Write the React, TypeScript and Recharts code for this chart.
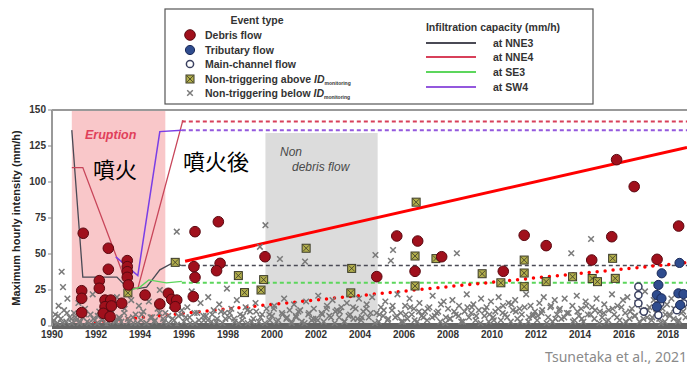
import React from 'react';
import {
  ComposedChart, Scatter, Line, XAxis, YAxis, ReferenceArea, ReferenceLine,
} from 'recharts';

type Pt = [number, number];

const yearTicks = [1990, 1992, 1994, 1996, 1998, 2000, 2002, 2004, 2006, 2008, 2010, 2012, 2014, 2016, 2018];
const intensityTicks = [0, 25, 50, 75, 100, 125, 150];

// [year, max hourly intensity mm/h]
const debrisFlow: Pt[] = [
  [1991.42, 64.4], [1992.56, 54], [1992.56, 39.4], [1993.42, 45.4], [1993.42, 41.2], [1993.42, 37.7],
  [1993.42, 33.8], [1993.47, 28.5], [1992.15, 31.5], [1992.15, 26.2], [1991.35, 24.5], [1991.35, 19.2],
  [1991.35, 9.3], [1992.41, 18], [1992.67, 18], [1992.41, 13.4], [1992.7, 13.9], [1992.33, 8.8],
  [1992.64, 6.5], [1993.17, 15.8], [1994.23, 21.5], [1994.9, 15.3], [1995.29, 22.7], [1995.44, 18.5],
  [1995.67, 18], [1995.6, 13.4],
  [1996.42, 20.4], [1996.5, 65.5], [1996.45, 41.2], [1996.5, 33.8], [1997.56, 72.4], [1999.68, 48.1],
  [1997.64, 43.5], [1997.48, 38.4], [2004.76, 34.3], [2005.67, 62.5], [2006.62, 59], [2006.5, 38],
  [2007.71, 48.1], [2010.51, 38], [2011.46, 63], [2012.46, 55.8], [2014.53, 45.8], [2015.44, 62],
  [2015.66, 115.5], [2016.46, 96.8], [2017.5, 46.3], [2018.48, 69.4],
];

const tributaryFlow: Pt[] = [
  [2017.71, 36.6], [2018.52, 43.8], [2017.56, 28.5], [2017.49, 21.5], [2017.7, 19.2],
  [2018.47, 22.7], [2018.7, 22.2], [2017.49, 13.4], [2018.55, 14.6],
];

const mainChannelFlow: Pt[] = [
  [2016.65, 27.3], [2016.65, 21.5], [2016.65, 15.8], [2017.64, 15.8], [2017.56, 7.6],
  [2018.7, 15.8], [2018.4, 11], [2016.9, 10],
];

const aboveId: Pt[] = [
  [1995.6, 44.2], [1993.45, 23], [2001.55, 54], [2003.62, 40], [1998.47, 35], [1999.62, 32.2],
  [1998.75, 23.2], [1999.5, 25], [2003.58, 23], [2006.55, 86], [2006.5, 48.6], [2006.5, 27.8],
  [2007.45, 46.8], [2009.55, 36.3], [2010.4, 30], [2011.46, 45.8], [2011.46, 36.8], [2011.46, 27.3],
  [2012.46, 30.8], [2013.66, 34.2], [2014.55, 33], [2014.79, 30.8], [2015.48, 47], [2015.6, 33.1],
];

const belowId: Pt[] = [
  [1990.05, 3], [1990.15, 8], [1990.25, 2], [1990.3, 14], [1990.4, 5], [1990.44, 37.7], [1990.5, 27],
  [1990.55, 11], [1990.65, 3], [1990.7, 19], [1990.8, 6], [1990.9, 2],
  [1991.0, 9], [1991.1, 4], [1991.2, 16], [1991.25, 2], [1991.4, 6], [1991.5, 12], [1991.6, 3],
  [1991.75, 8], [1991.85, 22], [1991.95, 4],
  [1992.05, 2], [1992.15, 10], [1992.3, 5], [1992.45, 15], [1992.55, 3], [1992.7, 9], [1992.85, 4], [1992.95, 20],
  [1993.05, 6], [1993.15, 3], [1993.3, 12], [1993.45, 5], [1993.6, 18], [1993.7, 2], [1993.8, 8], [1993.95, 14],
  [1994.05, 4], [1994.15, 10], [1994.3, 2], [1994.4, 17], [1994.55, 6], [1994.65, 3], [1994.8, 12], [1994.9, 25],
  [1995.05, 5], [1995.15, 9], [1995.3, 2], [1995.45, 14], [1995.55, 4], [1995.67, 65.5], [1995.75, 7], [1995.9, 11],
  [1996.0, 3], [1996.15, 13], [1996.25, 6], [1996.35, 24], [1996.5, 2], [1996.6, 9], [1996.75, 16], [1996.9, 4],
  [1997.0, 7], [1997.1, 20], [1997.25, 3], [1997.35, 11], [1997.5, 5], [1997.6, 15], [1997.75, 2], [1997.85, 9], [1997.95, 26],
  [1998.05, 6], [1998.15, 12], [1998.3, 3], [1998.4, 18], [1998.55, 8], [1998.65, 4], [1998.8, 13], [1998.9, 2],
  [1999.0, 10], [1999.15, 5], [1999.25, 16], [1999.4, 3], [1999.45, 55], [1999.55, 8], [1999.7, 70], [1999.75, 12], [1999.9, 4],
  [2000.0, 7], [2000.1, 14], [2000.2, 3], [2000.36, 46.5], [2000.45, 9], [2000.55, 19], [2000.65, 5], [2000.8, 11], [2000.9, 2],
  [2001.0, 15], [2001.1, 6], [2001.2, 10], [2001.35, 3], [2001.5, 44.7], [2001.55, 17], [2001.65, 8], [2001.8, 4], [2001.9, 12],
  [2002.0, 5], [2002.1, 21], [2002.25, 9], [2002.35, 3], [2002.5, 14], [2002.6, 7], [2002.75, 18], [2002.85, 2], [2002.95, 11],
  [2003.05, 6], [2003.15, 13], [2003.3, 3], [2003.4, 16], [2003.55, 8], [2003.7, 5], [2003.8, 12], [2003.95, 19],
  [2004.05, 4], [2004.15, 10], [2004.3, 15], [2004.4, 6], [2004.55, 20], [2004.7, 49.3], [2004.75, 9], [2004.85, 3], [2004.95, 13],
  [2005.05, 7], [2005.15, 17], [2005.25, 4], [2005.4, 45.3], [2005.45, 11], [2005.5, 52.8], [2005.6, 6], [2005.7, 22], [2005.85, 9], [2005.95, 3],
  [2006.05, 14], [2006.15, 5], [2006.25, 19], [2006.35, 8], [2006.45, 12], [2006.6, 3], [2006.7, 16], [2006.8, 7], [2006.95, 10],
  [2007.05, 4], [2007.15, 13], [2007.3, 21], [2007.4, 7], [2007.55, 10], [2007.65, 3], [2007.8, 17], [2007.9, 6],
  [2008.0, 12], [2008.1, 5], [2008.2, 18], [2008.35, 8], [2008.4, 50.5], [2008.5, 14], [2008.6, 3], [2008.75, 10], [2008.85, 22], [2008.95, 6],
  [2009.05, 9], [2009.15, 15], [2009.25, 4], [2009.4, 11], [2009.5, 19], [2009.65, 7], [2009.75, 13], [2009.85, 3], [2009.95, 17],
  [2010.05, 6], [2010.15, 10], [2010.3, 20], [2010.4, 4], [2010.5, 14], [2010.6, 8], [2010.75, 16], [2010.85, 3], [2010.95, 11],
  [2011.05, 18], [2011.15, 5], [2011.25, 12], [2011.35, 8], [2011.55, 22], [2011.65, 3], [2011.75, 14], [2011.85, 7], [2011.95, 10],
  [2012.05, 4], [2012.15, 16], [2012.25, 9], [2012.35, 20], [2012.55, 6], [2012.65, 13], [2012.75, 3], [2012.85, 18], [2012.95, 8],
  [2013.05, 11], [2013.15, 5], [2013.3, 19], [2013.4, 9], [2013.6, 50.5], [2013.65, 14], [2013.75, 4], [2013.85, 21], [2013.95, 7],
  [2014.05, 12], [2014.15, 3], [2014.25, 17], [2014.35, 8], [2014.5, 60.4], [2014.55, 13], [2014.65, 5], [2014.75, 19], [2014.9, 10],
  [2015.0, 6], [2015.1, 15], [2015.2, 3], [2015.3, 11], [2015.45, 22], [2015.55, 8], [2015.7, 14], [2015.8, 4], [2015.95, 18],
  [2016.05, 9], [2016.15, 20], [2016.25, 5], [2016.35, 12], [2016.5, 7], [2016.6, 16], [2016.7, 3], [2016.8, 11], [2016.95, 24],
  [2017.05, 6], [2017.15, 13], [2017.25, 4], [2017.35, 18], [2017.45, 9], [2017.6, 5], [2017.75, 12], [2017.85, 3], [2017.95, 15],
  [2018.05, 8], [2018.15, 19], [2018.25, 5], [2018.35, 11], [2018.45, 3], [2018.6, 9], [2018.7, 14], [2018.8, 6],
];

// the dense low-intensity mass along the bottom
const belowIdLow: Pt[] = [
  [1990.08, 4], [1990.28, 7], [1990.48, 2], [1990.68, 9], [1990.88, 5],
  [1991.08, 6], [1991.28, 3], [1991.48, 8], [1991.68, 2], [1991.88, 5],
  [1992.08, 7], [1992.28, 4], [1992.48, 1], [1992.68, 8], [1992.88, 3],
  [1993.08, 5], [1993.28, 9], [1993.48, 3], [1993.68, 6], [1993.88, 2],
  [1994.08, 8], [1994.28, 2], [1994.48, 6], [1994.68, 4], [1994.88, 9],
  [1995.08, 3], [1995.28, 7], [1995.48, 5], [1995.68, 1], [1995.88, 8],
  [1996.08, 6], [1996.28, 2], [1996.48, 9], [1996.68, 4], [1996.88, 7],
  [1997.08, 4], [1997.28, 8], [1997.48, 3], [1997.68, 10], [1997.88, 5],
  [1998.08, 9], [1998.28, 5], [1998.48, 2], [1998.68, 7], [1998.88, 11],
  [1999.08, 3], [1999.28, 10], [1999.48, 6], [1999.68, 2], [1999.88, 8],
  [2000.08, 12], [2000.28, 4], [2000.48, 8], [2000.68, 6], [2000.88, 3],
  [2001.08, 7], [2001.28, 11], [2001.48, 2], [2001.68, 9], [2001.88, 5],
  [2002.08, 4], [2002.28, 8], [2002.48, 12], [2002.68, 6], [2002.88, 10],
  [2003.08, 10], [2003.28, 3], [2003.48, 7], [2003.68, 13], [2003.88, 5],
  [2004.08, 6], [2004.28, 12], [2004.48, 9], [2004.68, 2], [2004.88, 8],
  [2005.08, 11], [2005.28, 5], [2005.48, 14], [2005.68, 7], [2005.88, 3],
  [2006.08, 8], [2006.28, 13], [2006.48, 4], [2006.68, 10], [2006.88, 6],
  [2007.08, 12], [2007.28, 6], [2007.48, 9], [2007.68, 15], [2007.88, 2],
  [2008.08, 5], [2008.28, 10], [2008.48, 7], [2008.68, 3], [2008.88, 13],
  [2009.08, 13], [2009.28, 7], [2009.48, 2], [2009.68, 11], [2009.88, 8],
  [2010.08, 4], [2010.28, 12], [2010.48, 9], [2010.68, 6], [2010.88, 15],
  [2011.08, 10], [2011.28, 3], [2011.48, 13], [2011.68, 6], [2011.88, 8],
  [2012.08, 7], [2012.28, 11], [2012.48, 2], [2012.68, 14], [2012.88, 5],
  [2013.08, 12], [2013.28, 6], [2013.48, 9], [2013.68, 3], [2013.88, 10],
  [2014.08, 5], [2014.28, 14], [2014.48, 8], [2014.68, 11], [2014.88, 2],
  [2015.08, 9], [2015.28, 4], [2015.48, 12], [2015.68, 6], [2015.88, 13],
  [2016.08, 3], [2016.28, 10], [2016.48, 7], [2016.68, 15], [2016.88, 5],
  [2017.08, 11], [2017.28, 6], [2017.48, 9], [2017.68, 2], [2017.88, 8],
  [2018.08, 7], [2018.28, 12], [2018.48, 4], [2018.68, 10],
];

// infiltration capacity during / right after the eruption
const nne3Eruption: Pt[] = [[1990.9, 136], [1991.4, 34], [1992.95, 34], [1993.4, 27], [1993.9, 26], [1994.3, 27], [1994.9, 39], [1995.5, 44], [1995.9, 42]];
const nne4Eruption: Pt[] = [[1990.9, 110], [1991.4, 110], [1993.45, 27], [1993.9, 26], [1995.95, 143]];
const se3Eruption: Pt[] = [[1993.4, 24], [1994.0, 27], [1994.4, 32], [1995.2, 30], [1995.9, 31]];
const sw4Eruption: Pt[] = [[1992.9, 48], [1993.9, 35], [1994.9, 135], [1995.9, 136]];

// steady values afterwards
const steadyYears = [1995.9, 2018.86];
const nne3Steady = 42;
const nne4Steady = 142;
const se3Steady = 30;
const sw4Steady = 136;

// hand-drawn trend annotations
const upperTrend: Pt[] = [[1996.05, 45], [2018.86, 124]];
const lowerTrend: Pt[] = [[1990.9, 1], [2018.86, 44]];

const toRows = (pts: Pt[]) => pts.map(([x, y]) => ({ x, y }));
const flat = (v: number) => steadyYears.map((x) => ({ x, y: v }));

const C = {
  nne3: '#4a4a55',
  nne4: '#d8405a',
  se3: '#5cd65c',
  sw4: '#9358dd',
};

const DebrisDot = (p: any) => (
  <circle cx={p.cx} cy={p.cy} r={5.3} fill="#a0101c" stroke="#5a0810" strokeWidth={1} />
);
const TribDot = (p: any) => (
  <circle cx={p.cx} cy={p.cy} r={4.6} fill="#2f4c8e" stroke="#1b2a58" strokeWidth={1} />
);
const MainDot = (p: any) => (
  <circle cx={p.cx} cy={p.cy} r={3.6} fill="#fff" stroke="#3a4060" strokeWidth={1.5} />
);
const AboveMark = (p: any) => (
  <g>
    <rect x={p.cx - 4} y={p.cy - 4} width={8} height={8} fill="#b2ae4c" stroke="#3a3a28" strokeWidth={1} />
    <path
      d={`M${p.cx - 3} ${p.cy - 3}L${p.cx + 3} ${p.cy + 3}M${p.cx + 3} ${p.cy - 3}L${p.cx - 3} ${p.cy + 3}`}
      stroke="#3a3a28"
      strokeWidth={0.8}
    />
  </g>
);
const BelowMark = (p: any) => (
  <path
    d={`M${p.cx - 2.8} ${p.cy - 2.8}L${p.cx + 2.8} ${p.cy + 2.8}M${p.cx + 2.8} ${p.cy - 2.8}L${p.cx - 2.8} ${p.cy + 2.8}`}
    stroke="#7a7a7a"
    strokeWidth={1.5}
  />
);

const legendFont = { fontFamily: 'Liberation Sans, Arial, sans-serif', fontSize: 10.5, fontWeight: 700, fill: '#333' };

function LegendBox() {
  const rows = [
    { y: 35, label: 'Debris flow', mark: <DebrisDot cx={190} cy={35} /> },
    { y: 50, label: 'Tributary flow', mark: <TribDot cx={190} cy={50} /> },
    { y: 64, label: 'Main-channel flow', mark: <MainDot cx={190} cy={64} /> },
    { y: 79, label: 'Non-triggering above ', mark: <AboveMark cx={190} cy={79} />, id: true },
    { y: 93, label: 'Non-triggering below ', mark: <BelowMark cx={190} cy={93} />, id: true },
  ];
  const caps = [
    { y: 43, label: 'at NNE3', color: C.nne3 },
    { y: 57, label: 'at NNE4', color: C.nne4 },
    { y: 72, label: 'at SE3', color: C.se3 },
    { y: 87, label: 'at SW4', color: C.sw4 },
  ];
  return (
    <svg width={687} height={110} style={{ position: 'absolute', left: 0, top: 0 }}>
      <rect x={165} y={9} width={428} height={95} fill="#fff" stroke="#555" strokeWidth={1.2} />
      <text x={257} y={24} textAnchor="middle" {...legendFont}>Event type</text>
      {rows.map((r) => (
        <g key={r.label}>
          {r.mark}
          <text x={205} y={r.y + 4} {...legendFont}>
            {r.label}
            {r.id && <tspan fontStyle="italic">ID</tspan>}
            {r.id && <tspan fontSize={5} dy={2}>monitoring</tspan>}
          </text>
        </g>
      ))}
      <text x={493} y={31} textAnchor="middle" {...legendFont}>Infiltration capacity (mm/h)</text>
      {caps.map((c) => (
        <g key={c.label}>
          <line x1={426} x2={476} y1={c.y} y2={c.y} stroke={c.color} strokeWidth={2} />
          <text x={493} y={c.y + 4} {...legendFont}>{c.label}</text>
        </g>
      ))}
    </svg>
  );
}

const YLabel = () => (
  <text
    x={17}
    y={218}
    transform="rotate(-90 17 218)"
    textAnchor="middle"
    dominantBaseline="middle"
    style={{ fontFamily: 'Liberation Sans, Arial, sans-serif', fontSize: 11, fontWeight: 700, fill: '#222' }}
  >
    Maximum hourly intensity (mm/h)
  </text>
);

const tickStyle = { fontFamily: 'Liberation Sans, Arial, sans-serif', fontSize: 10, fontWeight: 700, fill: '#333' };

// y tick; the "0" sits a little higher so it clears the 1990 label
const YTick = (p: any) => (
  <text x={p.x} y={p.y + (p.payload.value === 0 ? -3 : 0)} textAnchor="end" dominantBaseline="middle" style={tickStyle}>
    {p.payload.value}
  </text>
);

export default function App() {
  return (
    <div style={{ position: 'absolute', left: 0, top: 0, width: 687, height: 372, background: '#fff', overflow: 'hidden' }}>
      <ComposedChart width={687} height={372} margin={{ top: 110, right: 0, bottom: 26, left: 12 }}>
        <XAxis
          type="number"
          dataKey="x"
          domain={[1990, 2018.86]}
          ticks={yearTicks}
          allowDataOverflow
          height={20}
          tick={{ ...tickStyle, dy: -2 }}
          tickLine={false}
          axisLine={{ stroke: '#666', strokeWidth: 6 }}
          tickMargin={1}
        />
        <YAxis
          type="number"
          dataKey="y"
          domain={[0, 150]}
          ticks={intensityTicks}
          allowDataOverflow
          width={40}
          tick={<YTick />}
          tickSize={4}
          tickMargin={2}
          tickLine={{ stroke: '#888' }}
          axisLine={{ stroke: '#999', strokeWidth: 2 }}
          label={<YLabel />}
        />
        <ReferenceArea x1={1990.9} x2={1995.15} y1={0} y2={150} fill="#f9c7c9" fillOpacity={1} stroke="none" />
        <ReferenceArea x1={1999.7} x2={2004.8} y1={0} y2={134} fill="#dcdcdc" fillOpacity={1} stroke="none" />
        <ReferenceLine y={150} stroke="#999" strokeWidth={2} />

        <Scatter data={toRows(belowIdLow)} dataKey="y" shape={BelowMark} isAnimationActive={false} />
        <Scatter data={toRows(belowId)} dataKey="y" shape={BelowMark} isAnimationActive={false} />

        <Line data={flat(nne3Steady)} dataKey="y" stroke={C.nne3} strokeWidth={1.6} strokeDasharray="4 3" dot={false} isAnimationActive={false} />
        <Line data={flat(se3Steady)} dataKey="y" stroke={C.se3} strokeWidth={2} strokeDasharray="4 3" dot={false} isAnimationActive={false} />
        <Line data={flat(nne4Steady)} dataKey="y" stroke={C.nne4} strokeWidth={2} strokeDasharray="4 3" dot={false} isAnimationActive={false} />
        <Line data={flat(sw4Steady)} dataKey="y" stroke={C.sw4} strokeWidth={2} strokeDasharray="4 3" dot={false} isAnimationActive={false} />

        <Line data={toRows(nne3Eruption)} dataKey="y" stroke={C.nne3} strokeWidth={1.3} dot={false} isAnimationActive={false} />
        <Line data={toRows(nne4Eruption)} dataKey="y" stroke="#c8465a" strokeWidth={1.3} dot={false} isAnimationActive={false} />
        <Line data={toRows(se3Eruption)} dataKey="y" stroke={C.se3} strokeWidth={1.3} dot={false} isAnimationActive={false} />
        <Line data={toRows(sw4Eruption)} dataKey="y" stroke="#7a3ee6" strokeWidth={1.5} dot={false} isAnimationActive={false} />

        <Scatter data={toRows(aboveId)} dataKey="y" shape={AboveMark} isAnimationActive={false} />
        <Scatter data={toRows(mainChannelFlow)} dataKey="y" shape={MainDot} isAnimationActive={false} />
        <Scatter data={toRows(tributaryFlow)} dataKey="y" shape={TribDot} isAnimationActive={false} />
        <Scatter data={toRows(debrisFlow)} dataKey="y" shape={DebrisDot} isAnimationActive={false} />

        <ReferenceLine
          segment={upperTrend.map(([x, y]) => ({ x, y }))}
          stroke="#ff0000"
          strokeWidth={3}
        />
        <ReferenceLine
          segment={lowerTrend.map(([x, y]) => ({ x, y }))}
          stroke="#ff0000"
          strokeWidth={3.5}
          strokeDasharray="0 8"
          strokeLinecap="round"
        />
      </ComposedChart>

      <LegendBox />

      <div style={{ position: 'absolute', left: 85, top: 128, fontFamily: 'Liberation Sans, Arial, sans-serif', fontSize: 12.5, fontWeight: 700, fontStyle: 'italic', color: '#e0405a' }}>
        Eruption
      </div>
      <div style={{ position: 'absolute', left: 93, top: 154, fontFamily: 'Noto Sans CJK JP', fontSize: 22, color: '#000', lineHeight: '28px' }}>
        噴火
      </div>
      <div style={{ position: 'absolute', left: 183, top: 146, fontFamily: 'Noto Sans CJK JP', fontSize: 22, color: '#000', lineHeight: '28px' }}>
        噴火後
      </div>
      <div style={{ position: 'absolute', left: 280, top: 145, fontFamily: 'Liberation Sans, Arial, sans-serif', fontSize: 12, fontStyle: 'italic', color: '#4a4a4a', lineHeight: '15px' }}>
        Non<br />
        <span style={{ marginLeft: 12 }}>debris flow</span>
      </div>
      <div style={{ position: 'absolute', right: 0, top: 347, fontFamily: 'Noto Sans, sans-serif', fontSize: 14, color: '#8a8a8a' }}>
        Tsunetaka et al., 2021
      </div>
    </div>
  );
}
